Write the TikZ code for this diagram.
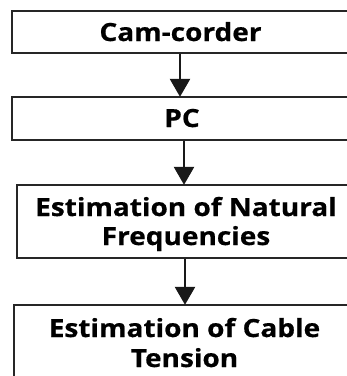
\documentclass[tikz,border=0pt]{standalone}
\usepackage{fontspec}
\setmainfont[FakeStretch=1.12, BoldFeatures={FakeBold=0.6}]{Open Sans}
\usetikzlibrary{arrows.meta}
\tikzset{
  stage/.style={draw=black!85, line width=1.3pt, rectangle, inner sep=0pt},
  caption/.style={anchor=base, font=\fontsize{25}{29}\selectfont\bfseries, inner sep=0pt, text=black},
  flow/.style={line width=2.5pt, draw=black!90, -{Triangle[width=20pt,length=18pt]}, shorten >=-0.5pt}
}
\begin{document}
\begin{tikzpicture}[x=1pt,y=-1pt]
  \useasboundingbox (0,0) rectangle (347,376);
  \clip (0,0) rectangle (347,376);
  % boxes of the processing chain
  \node[stage, minimum width=337pt, minimum height=42pt] (cam) at (180.5,32) {};
  \node[stage, minimum width=340pt, minimum height=43pt] (pc) at (182,118.5) {};
  \node[stage, minimum width=338pt, minimum height=73pt] (freq) at (186,221.5) {};
  \node[stage, minimum width=341pt, minimum height=90pt] (ten) at (184.5,350) {};
  % captions
  \node[caption] (camT) at (180.5,41) {Cam-corder};
  \node[caption] (pcT) at (182,127) {PC};
  \node[caption] (freqA) at (186,216) {Estimation of Natural};
  \node[caption] (freqB) at (186,245) {Frequencies};
  \node[caption] (tenA) at (184.5,337) {Estimation of Cable};
  \node[caption] (tenB) at (184.5,367) {Tension};
  % connectors
  \coordinate (x1) at (180,0);
  \coordinate (x2) at (184,0);
  \coordinate (x3) at (185,0);
  \draw[flow] (cam.south -| x1) -- (pc.north -| x1);
  \draw[flow] (pc.south -| x2) -- (freq.north -| x2);
  \draw[flow] (freq.south -| x3) -- (ten.north -| x3);
\end{tikzpicture}
\end{document}
